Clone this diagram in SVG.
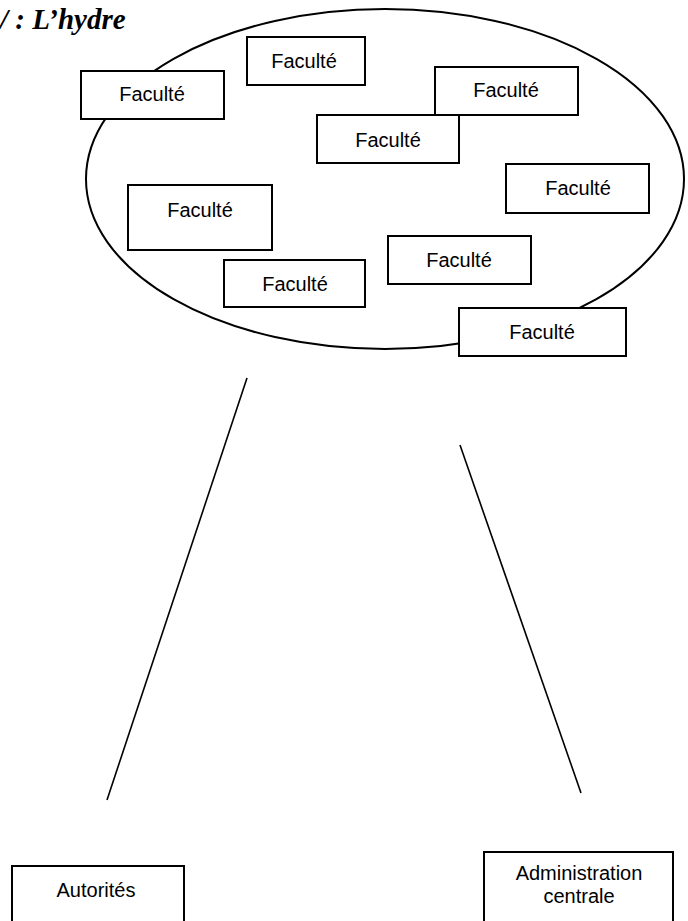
<svg xmlns="http://www.w3.org/2000/svg" width="688" height="921" viewBox="0 0 688 921">
<style>
.box{fill:#fff;stroke:#000;stroke-width:2}
.lbl{font-family:"Liberation Sans",Arial,sans-serif;font-size:20px;fill:#000;text-anchor:middle}
.conn{stroke:#000;stroke-width:1.6;fill:none}
.title{font-family:"Liberation Serif","Times New Roman",serif;font-weight:bold;font-style:italic;font-size:29px;fill:#000}
</style>
<rect width="688" height="921" fill="#fff"/>
<text class="title" x="0" y="29">/ : L’hydre</text>
<g id="ellipse"><ellipse cx="385" cy="179" rx="299" ry="170" fill="none" stroke="#000" stroke-width="2"/></g>
<g id="connectors">
<line class="conn" x1="247" y1="378" x2="107" y2="800"/>
<line class="conn" x1="460" y1="445" x2="581" y2="793"/>
</g>
<g id="fac1"><rect class="box" x="81" y="71" width="143" height="48"/><text class="lbl" x="152" y="101">Faculté</text></g>
<g id="fac2"><rect class="box" x="247" y="37" width="118" height="48"/><text class="lbl" x="304" y="68">Faculté</text></g>
<g id="fac3"><rect class="box" x="435" y="67" width="143" height="48"/><text class="lbl" x="506" y="97">Faculté</text></g>
<g id="fac4"><rect class="box" x="317" y="115" width="142" height="48"/><text class="lbl" x="388" y="147">Faculté</text></g>
<g id="fac5"><rect class="box" x="506" y="164" width="143" height="49"/><text class="lbl" x="578" y="195">Faculté</text></g>
<g id="fac6"><rect class="box" x="128" y="185" width="144" height="65"/><text class="lbl" x="200" y="217">Faculté</text></g>
<g id="fac7"><rect class="box" x="224" y="260" width="141" height="47"/><text class="lbl" x="295" y="291">Faculté</text></g>
<g id="fac8"><rect class="box" x="388" y="236" width="143" height="48"/><text class="lbl" x="459" y="267">Faculté</text></g>
<g id="fac9"><rect class="box" x="459" y="308" width="167" height="48"/><text class="lbl" x="542" y="339">Faculté</text></g>
<g id="autorites"><rect class="box" x="12" y="866" width="172" height="70"/><text class="lbl" x="96" y="897">Autorités</text></g>
<g id="admin"><rect class="box" x="484" y="852" width="189" height="84"/><text class="lbl" x="579" y="880">Administration</text><text class="lbl" x="579" y="903">centrale</text></g>
</svg>
